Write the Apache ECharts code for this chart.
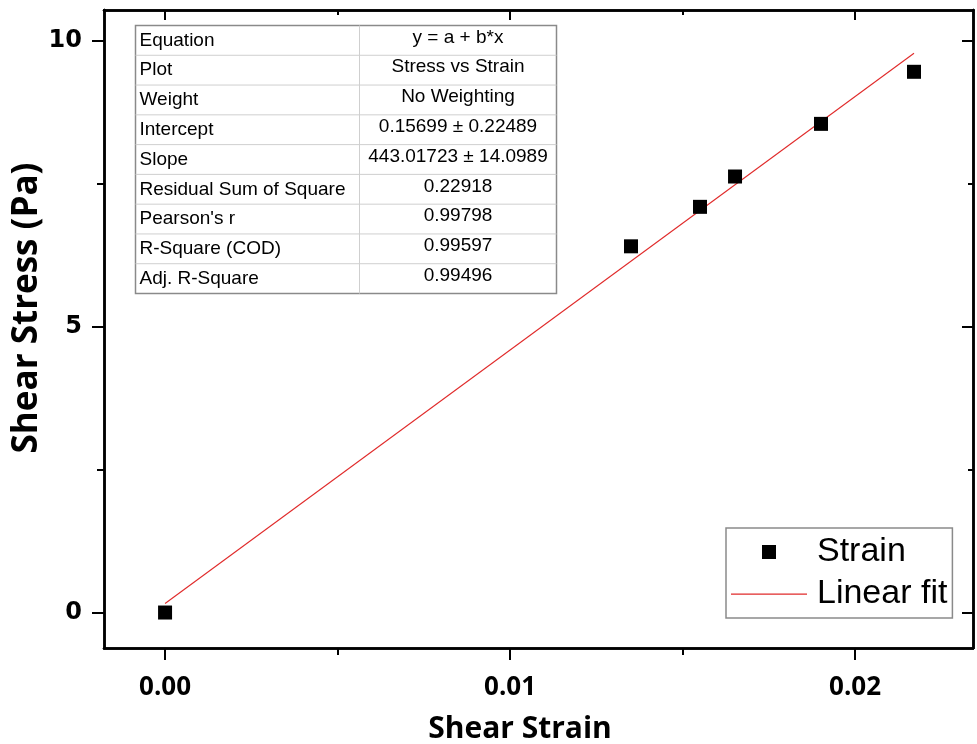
<!DOCTYPE html>
<html>
<head>
<meta charset="utf-8">
<script src="https://cdn.jsdelivr.net/npm/echarts@6/dist/echarts.min.js"></script>
<style>
  html, body { margin: 0; padding: 0; background: #fff; }
  #chart { width: 977px; height: 744px; }
</style>
</head>
<body>
<div id="chart"></div>
<script>
// Measured shear strain / shear stress pairs
const strain = [0, 0.013507, 0.015507, 0.016522, 0.019014, 0.02171];
const stress = [0, 6.40, 7.09, 7.62, 8.54, 9.45];

// Linear fit coefficients (y = a + b*x)
const fitIntercept = 0.15699;
const fitSlope = 443.01723;

// Axis ticks
const xMajorTicks = [0, 0.01, 0.02];
const xMinorTicks = [0.005, 0.015];
const yMajorTicks = [0, 5, 10];
const yMinorTicks = [2.5, 7.5];

// Fit report table
const tableLabels = ['Equation', 'Plot', 'Weight', 'Intercept', 'Slope',
  'Residual Sum of Square', "Pearson's r", 'R-Square (COD)', 'Adj. R-Square'];
const tableValues = ['y = a + b*x', 'Stress vs Strain', 'No Weighting',
  '0.15699 \u00b1 0.22489', '443.01723 \u00b1 14.0989', '0.22918',
  '0.99798', '0.99597', '0.99496'];

const X_MIN = -0.00177, X_MAX = 0.02342;
const Y_MIN = -0.62, Y_MAX = 10.53;

const scatterData = strain.map((x, i) => [x, stress[i]]);
const xFirst = strain[0], xLast = strain[strain.length - 1];
const fitData = [xFirst, xLast].map(x => [x, fitIntercept + fitSlope * x]);

const frame = { color: '#000', width: 2.5 };
const FIT_COLOR = '#e02a2a';

function xAxisDef(pos, ticks, len, inside, opts) {
  return Object.assign({
    type: 'value', position: pos, min: X_MIN, max: X_MAX,
    axisLine: { show: true, onZero: false, lineStyle: frame },
    axisTick: { show: true, customValues: ticks, length: len, inside: inside, lineStyle: { color: '#000', width: 2 } },
    axisLabel: { show: false },
    splitLine: { show: false }
  }, opts || {});
}
function yAxisDef(pos, ticks, len, inside, opts) {
  return Object.assign({
    type: 'value', position: pos, min: Y_MIN, max: Y_MAX,
    axisLine: { show: true, onZero: false, lineStyle: frame },
    axisTick: { show: true, customValues: ticks, length: len, inside: inside, lineStyle: { color: '#000', width: 2 } },
    axisLabel: { show: false },
    splitLine: { show: false }
  }, opts || {});
}

// Table drawn as graphic elements
const TBL = { left: 133, top: 23, width: 421, height: 268, col: 224 };
const rowH = TBL.height / tableLabels.length;
const tableFont = '19px "Liberation Sans", Arial, sans-serif';
const tableChildren = [
  { type: 'rect', shape: { x: 0, y: 0, width: TBL.width, height: TBL.height },
    style: { fill: '#fff', stroke: '#8a8a8a', lineWidth: 1.5 } },
  { type: 'line', shape: { x1: TBL.col, y1: 0, x2: TBL.col, y2: TBL.height },
    style: { stroke: '#cfcfcf', lineWidth: 1 } }
];
for (let i = 1; i < tableLabels.length; i++) {
  tableChildren.push({ type: 'line',
    shape: { x1: 0, y1: i * rowH, x2: TBL.width, y2: i * rowH },
    style: { stroke: '#cfcfcf', lineWidth: 1 } });
}
tableLabels.forEach((label, i) => {
  tableChildren.push({ type: 'text', x: 4, y: i * rowH + rowH / 2,
    style: { text: label, fill: '#000', font: tableFont,
      align: 'left', verticalAlign: 'middle', textAlign: 'left', textVerticalAlign: 'middle' } });
});
tableValues.forEach((val, i) => {
  tableChildren.push({ type: 'text', x: (TBL.col + TBL.width) / 2, y: i * rowH + rowH / 2 - 3,
    style: { text: val, fill: '#000', font: tableFont,
      align: 'center', verticalAlign: 'middle', textAlign: 'center', textVerticalAlign: 'middle' } });
});

// Legend icons: a square centred in the icon box, and a thin horizontal line
const squareIcon = 'path://M0,0M76,14M31,0h14v14h-14z';
const lineIcon = 'path://M0,0M76,14M0,6.5h76v1.2h-76z';

const option = {
  backgroundColor: '#fff',
  animation: false,
  grid: { left: 104, right: 4, top: 10, bottom: 96, containLabel: false, outerBoundsMode: 'none' },
  xAxis: [
    xAxisDef('bottom', xMajorTicks, 12, false, {
      axisLabel: { show: true, customValues: xMajorTicks, margin: 27,
        formatter: v => v.toFixed(2),
        fontFamily: '"Open Sans", sans-serif', fontWeight: 'bold', fontSize: 26, color: '#000' },
      name: 'Shear Strain', nameLocation: 'middle', nameGap: 66, nameMoveOverlap: false,
      nameTextStyle: { fontFamily: '"Open Sans", sans-serif', fontWeight: 'bold', fontSize: 30,
        color: '#000', padding: [0, 37, 0, 0] }
    }),
    xAxisDef('bottom', xMinorTicks, 7, false),
    xAxisDef('top', xMajorTicks, 10, true),
    xAxisDef('top', xMinorTicks, 5, true)
  ],
  yAxis: [
    yAxisDef('left', yMajorTicks, 12, false, {
      axisLabel: { show: true, customValues: yMajorTicks, margin: 22,
        fontFamily: '"DejaVu Sans", sans-serif', fontWeight: 'bold', fontSize: 24, color: '#000' },
      name: 'Shear Stress (Pa)', nameLocation: 'middle', nameGap: 59, nameMoveOverlap: false,
      nameTextStyle: { fontFamily: '"Open Sans", sans-serif', fontWeight: 'bold', fontSize: 35,
        color: '#000', padding: [0, 0, 0, 42] }
    }),
    yAxisDef('left', yMinorTicks, 7, false),
    yAxisDef('right', yMajorTicks, 11, true),
    yAxisDef('right', yMinorTicks, 5, true)
  ],
  legend: {
    orient: 'vertical', left: 726, top: 528,
    padding: [7, 5, 7, 5], itemGap: 8,
    itemWidth: 76, itemHeight: 14,
    backgroundColor: '#fff', borderColor: '#8a8a8a', borderWidth: 1.5, borderRadius: 0,
    textStyle: { fontFamily: '"Liberation Sans", Arial, sans-serif', fontSize: 34, color: '#000',
      padding: [0, 0, 0, 5] },
    data: [
      { name: 'Strain', icon: squareIcon, itemStyle: { color: '#000', opacity: 1 } },
      { name: 'Linear fit', icon: lineIcon, itemStyle: { color: FIT_COLOR } }
    ]
  },
  graphic: [{ type: 'group', left: TBL.left, top: TBL.top, children: tableChildren }],
  series: [
    {
      name: 'Linear fit', type: 'line', data: fitData,
      xAxisIndex: 0, yAxisIndex: 0,
      symbol: 'none', showSymbol: false,
      lineStyle: { color: FIT_COLOR, width: 1.1 },
      itemStyle: { color: FIT_COLOR },
      z: 2
    },
    {
      name: 'Strain', type: 'scatter', data: scatterData,
      xAxisIndex: 0, yAxisIndex: 0,
      symbol: 'rect', symbolSize: 14,
      itemStyle: { color: '#000', opacity: 1 },
      z: 3
    }
  ]
};

const chart = echarts.init(document.getElementById('chart'), null, { renderer: 'canvas' });
chart.setOption(option);
</script>
</body>
</html>
